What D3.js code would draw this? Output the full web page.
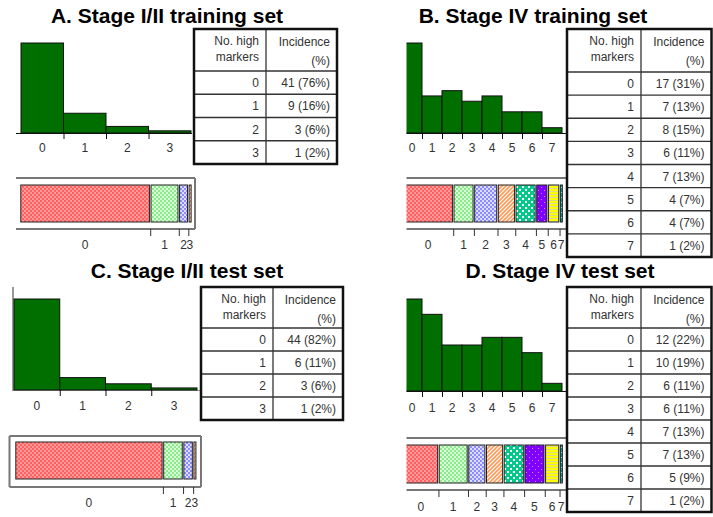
<!DOCTYPE html>
<html>
<head>
<meta charset="utf-8">
<script src="https://cdn.jsdelivr.net/npm/d3@7"></script>
<style>
  html, body { margin: 0; padding: 0; background: #fff; }
  svg { display: block; }
  text { font-family: "Liberation Sans", Arial, sans-serif; }
</style>
</head>
<body>
<svg id="chart" width="713" height="517"></svg>
<script>
// Number of high markers per patient and how many patients carry each count
const markersEarly = [0, 1, 2, 3];
const markersLate = [0, 1, 2, 3, 4, 5, 6, 7];

const trainEarlyCounts = [41, 9, 3, 1];
const trainEarlyPct = [76, 16, 6, 2];

const trainLateCounts = [17, 7, 8, 6, 7, 4, 4, 1];
const trainLatePct = [31, 13, 15, 11, 13, 7, 7, 2];

const testEarlyCounts = [44, 6, 3, 1];
const testEarlyPct = [82, 11, 6, 2];

const testLateCounts = [12, 10, 6, 6, 7, 7, 5, 1];
const testLatePct = [22, 19, 11, 11, 13, 13, 9, 2];

const panelTitles = [
  "A. Stage I/II training set",
  "B. Stage IV training set",
  "C. Stage I/II test set",
  "D. Stage IV test set"
];
const headerLeft = ["No. high", "markers"];
const headerRight = ["Incidence", "(%)"];

// Layout of each panel (pixels)
const panels = [
  {
    markers: markersEarly, counts: trainEarlyCounts, pct: trainEarlyPct, title: panelTitles[0],
    titleX: 167, titleY: 23,
    hist: { x0: 21, x1: 191, base: 133, top: 43, axisFrom: 16, axisTo: 192, axisColor: "#111", labelY: 152, yAxis: null },
    stack: { x0: 20, x1: 191.5, top: 185, bottom: 222, labelY: 249,
             frame: { l: 16, t: 178, r: 195, b: 229, sides: "trb" } },
    table: { l: 194, t: 29, r: 337, div: 266, head: 71, b: 164 },
    clipLeft: null
  },
  {
    markers: markersLate, counts: trainLateCounts, pct: trainLatePct, title: panelTitles[1],
    titleX: 533, titleY: 23,
    hist: { x0: 402, x1: 562, base: 133, top: 43, axisFrom: 400, axisTo: 567, axisColor: "#111", labelY: 152, yAxis: null },
    stack: { x0: 403, x1: 562.5, top: 185, bottom: 222, labelY: 249,
             frame: { l: 400, t: 178, r: 567, b: 229, sides: "tb" } },
    table: { l: 567, t: 29, r: 711.5, div: 641, head: 72, b: 257 },
    clipLeft: 406.5
  },
  {
    markers: markersEarly, counts: testEarlyCounts, pct: testEarlyPct, title: panelTitles[2],
    titleX: 187, titleY: 278,
    hist: { x0: 14, x1: 197, base: 390, top: 299, axisFrom: 13, axisTo: 200, axisColor: "#999", labelY: 410, yAxis: { x: 13, top: 287 } },
    stack: { x0: 15, x1: 196.5, top: 442, bottom: 479, labelY: 507,
             frame: { l: 9.5, t: 436, r: 201, b: 487, sides: "ltrb" } },
    table: { l: 201, t: 287, r: 343, div: 273, head: 328, b: 420 },
    clipLeft: null
  },
  {
    markers: markersLate, counts: testLateCounts, pct: testLatePct, title: panelTitles[3],
    titleX: 560, titleY: 278,
    hist: { x0: 402, x1: 562, base: 391, top: 299, axisFrom: 400, axisTo: 567, axisColor: "#111", labelY: 412, yAxis: null },
    stack: { x0: 403, x1: 562.5, top: 445, bottom: 483, labelY: 511,
             frame: { l: 400, t: 438, r: 567, b: 490, sides: "tb" } },
    table: { l: 567, t: 287, r: 711.5, div: 641, head: 328, b: 512 },
    clipLeft: 406.5
  }
];

const svg = d3.select("#chart");
const defs = svg.append("defs");

// Hatched fills used for the stacked composition bar, one per marker count
function makePattern(id, w, h, bg, draw) {
  const p = defs.append("pattern")
    .attr("id", id).attr("patternUnits", "userSpaceOnUse")
    .attr("width", w).attr("height", h);
  p.append("rect").attr("width", w).attr("height", h).attr("fill", bg);
  draw(p);
}
function squares(p, pts, size, color) {
  pts.forEach(([x, y]) => p.append("rect").attr("x", x).attr("y", y)
    .attr("width", size).attr("height", size).attr("fill", color));
}
makePattern("fill0", 4, 4, "#ff9a9a", p => squares(p, [[0, 0], [2, 2]], 2, "#ff6060"));
makePattern("fill1", 4, 4, "#d6ffd6", p => squares(p, [[0, 0], [2, 2]], 2, "#8ee88e"));
makePattern("fill2", 4, 4, "#dcdcff", p => squares(p, [[0, 0], [2, 2]], 2, "#8c8cff"));
makePattern("fill3", 4, 4, "#ffffff", p => {
  p.append("path").attr("d", "M-1,5 L5,-1 M-1,1 L1,-1 M3,5 L5,3")
    .attr("stroke", "#ff9955").attr("stroke-width", 1.6);
});
makePattern("fill4", 6, 6, "#00c98a", p => squares(p, [[0, 0], [3, 3]], 2, "#ffffff"));
makePattern("fill5", 6, 6, "#8000ff", p => squares(p, [[1, 1], [4, 4]], 1, "#c890ff"));
makePattern("fill6", 6, 3, "#ffff00", p => {
  p.append("rect").attr("y", 2).attr("width", 6).attr("height", 1).attr("fill", "#d8d890");
});
makePattern("fill7", 4, 5, "#009c9c", p => {
  p.append("rect").attr("x", 1).attr("y", 2).attr("width", 2).attr("height", 1).attr("fill", "#cfeeee");
});
const segmentFills = d3.range(8).map(i => `url(#fill${i})`);

const labelFont = 12;
const textColor = "#333";

panels.forEach((cfg, pi) => {
  const g = svg.append("g");
  const n = cfg.counts.length;

  // Title
  g.append("text")
    .attr("x", cfg.titleX).attr("y", cfg.titleY)
    .attr("text-anchor", "middle")
    .attr("font-size", 21).attr("font-weight", "bold").attr("fill", "#000")
    .text(cfg.title);

  // Optional crop on the left edge of the plot area
  let plot = g.append("g");
  if (cfg.clipLeft !== null) {
    const cid = `clip${pi}`;
    defs.append("clipPath").attr("id", cid)
      .append("rect").attr("x", cfg.clipLeft).attr("y", 0).attr("width", 400).attr("height", 517);
    plot.attr("clip-path", `url(#${cid})`);
  }

  // ---- Histogram ----
  const h = cfg.hist;
  const x = d3.scaleLinear().domain([-0.5, n - 0.5]).range([h.x0, h.x1]);
  const y = d3.scaleLinear().domain([0, d3.max(cfg.counts)]).range([h.base, h.top]);

  if (h.yAxis) {
    plot.append("line")
      .attr("x1", h.yAxis.x).attr("x2", h.yAxis.x)
      .attr("y1", h.yAxis.top).attr("y2", h.base + 1)
      .attr("stroke", "#999").attr("stroke-width", 2);
  }
  plot.append("line")
    .attr("x1", h.axisFrom).attr("x2", h.axisTo)
    .attr("y1", h.base + 0.5).attr("y2", h.base + 0.5)
    .attr("stroke", h.axisColor).attr("stroke-width", 1);

  plot.selectAll(null).data(cfg.counts).join("rect")
    .attr("x", (d, i) => x(cfg.markers[i] - 0.5))
    .attr("width", (d, i) => x(cfg.markers[i] + 0.5) - x(cfg.markers[i] - 0.5))
    .attr("y", d => y(d))
    .attr("height", d => y(0) - y(d))
    .attr("fill", "#006f00")
    .attr("stroke", "#111").attr("stroke-width", 1);

  // ticks between bins and labels under bin centres
  const xAxis = d3.axisBottom(x)
    .tickValues(cfg.markers.slice(0, -1).map(m => m + 0.5))
    .tickSize(6).tickFormat("");
  const axG = plot.append("g").attr("transform", `translate(0,${h.base})`).call(xAxis);
  axG.select(".domain").remove();
  axG.selectAll(".tick line").attr("stroke", "#111");

  plot.selectAll(null).data(cfg.markers).join("text")
    .attr("x", m => x(m)).attr("y", h.labelY)
    .attr("text-anchor", "middle").attr("font-size", labelFont).attr("fill", textColor)
    .text(m => m);

  // ---- Stacked composition bar ----
  const s = cfg.stack;
  const total = d3.sum(cfg.counts);
  const cum = d3.cumsum(cfg.counts);
  const starts = cum.map((c, i) => c - cfg.counts[i]);
  const xs = d3.scaleLinear().domain([0, total]).range([s.x0, s.x1]);

  const f = s.frame;
  const framePath = d3.path();
  if (f.sides.includes("t")) { framePath.moveTo(f.l, f.t); framePath.lineTo(f.r, f.t); }
  if (f.sides.includes("r")) { framePath.moveTo(f.r, f.t); framePath.lineTo(f.r, f.b); }
  if (f.sides.includes("b")) { framePath.moveTo(f.l, f.b); framePath.lineTo(f.r, f.b); }
  if (f.sides.includes("l")) { framePath.moveTo(f.l, f.t); framePath.lineTo(f.l, f.b); }
  plot.append("path").attr("d", framePath.toString())
    .attr("fill", "none").attr("stroke", "#777").attr("stroke-width", 2);

  const gap = 0.8;
  plot.selectAll(null).data(cfg.counts).join("rect")
    .attr("x", (d, i) => xs(starts[i]) + gap)
    .attr("width", (d, i) => Math.max(2, xs(cum[i]) - xs(starts[i]) - 2 * gap))
    .attr("y", s.top)
    .attr("height", s.bottom - s.top)
    .attr("fill", (d, i) => segmentFills[i])
    .attr("stroke", "#222").attr("stroke-width", 1);

  const sAxis = d3.axisBottom(xs)
    .tickValues(cum.slice(0, -1))
    .tickSize(7).tickFormat("");
  const sAxG = plot.append("g").attr("transform", `translate(0,${f.b})`).call(sAxis);
  sAxG.select(".domain").remove();
  sAxG.selectAll(".tick line").attr("stroke", "#333");

  plot.selectAll(null).data(cfg.markers).join("text")
    .attr("x", (m, i) => (xs(starts[i]) + xs(cum[i])) / 2)
    .attr("y", s.labelY)
    .attr("text-anchor", "middle").attr("font-size", labelFont).attr("fill", textColor)
    .text(m => m);

  // ---- Incidence table ----
  const t = cfg.table;
  const rows = d3.scaleBand().domain(cfg.markers).range([t.head, t.b]);
  const tg = g.append("g");
  tg.append("rect").attr("x", t.l).attr("y", t.t)
    .attr("width", t.r - t.l).attr("height", t.b - t.t)
    .attr("fill", "#fff");

  const pad = 7;
  tg.selectAll(null).data(headerLeft).join("text")
    .attr("x", t.div - pad).attr("y", (d, i) => t.t + 16 + i * 16)
    .attr("text-anchor", "end").attr("font-size", labelFont).attr("fill", textColor)
    .text(d => d);
  tg.selectAll(null).data(headerRight).join("text")
    .attr("x", t.r - pad).attr("y", (d, i) => t.t + 17 + i * 19)
    .attr("text-anchor", "end").attr("font-size", labelFont).attr("fill", textColor)
    .text(d => d);

  tg.selectAll(null).data(cfg.markers.slice(1)).join("line")
    .attr("x1", t.l).attr("x2", t.r)
    .attr("y1", m => rows(m)).attr("y2", m => rows(m))
    .attr("stroke", "#333").attr("stroke-width", 1.3);
  tg.append("line").attr("x1", t.l).attr("x2", t.r)
    .attr("y1", t.head).attr("y2", t.head)
    .attr("stroke", "#333").attr("stroke-width", 1.3);
  tg.append("line").attr("x1", t.div).attr("x2", t.div)
    .attr("y1", t.t).attr("y2", t.b)
    .attr("stroke", "#333").attr("stroke-width", 1.3);

  tg.selectAll(null).data(cfg.markers).join("text")
    .attr("x", t.div - pad).attr("y", m => rows(m) + rows.bandwidth() / 2 + 4.5)
    .attr("text-anchor", "end").attr("font-size", labelFont).attr("fill", textColor)
    .text(m => m);
  tg.selectAll(null).data(cfg.counts).join("text")
    .attr("x", t.r - pad).attr("y", (d, i) => rows(cfg.markers[i]) + rows.bandwidth() / 2 + 4.5)
    .attr("text-anchor", "end").attr("font-size", labelFont).attr("fill", textColor)
    .text((d, i) => `${d} (${cfg.pct[i]}%)`);

  tg.append("rect").attr("x", t.l).attr("y", t.t)
    .attr("width", t.r - t.l).attr("height", t.b - t.t)
    .attr("fill", "none").attr("stroke", "#111").attr("stroke-width", 2.5);
});
</script>
</body>
</html>
